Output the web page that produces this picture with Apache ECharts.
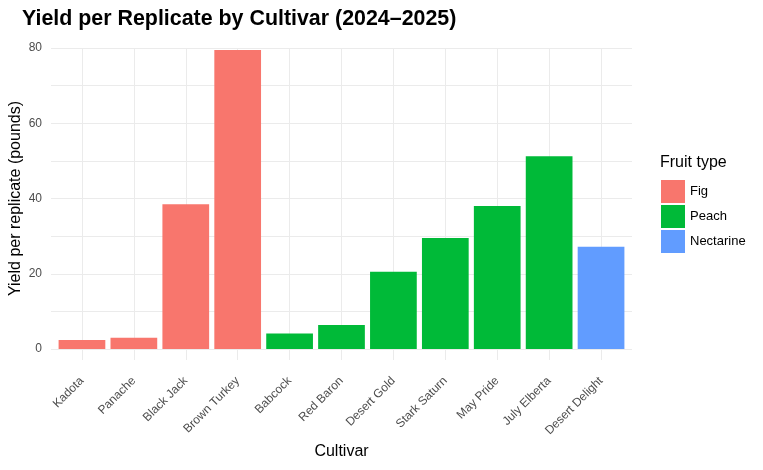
<!DOCTYPE html>
<html>
<head>
<meta charset="utf-8">
<script src="https://cdn.jsdelivr.net/npm/echarts@6/dist/echarts.min.js"></script>
<style>
  html, body { margin: 0; padding: 0; background: #fff; }
  #chart { width: 763px; height: 470px; }
</style>
</head>
<body>
<div id="chart"></div>
<script>
// data
const cultivars = ["Kadota", "Panache", "Black Jack", "Brown Turkey", "Babcock", "Red Baron",
  "Desert Gold", "Stark Saturn", "May Pride", "July Elberta", "Desert Delight"];
const fruitTypes = ["Fig", "Fig", "Fig", "Fig", "Peach", "Peach",
  "Peach", "Peach", "Peach", "Peach", "Nectarine"];
const yields = [2.4, 3.0, 38.5, 79.5, 4.1, 6.4, 20.5, 29.5, 38.0, 51.2, 27.2];
const fruitOrder = ["Fig", "Peach", "Nectarine"];
const fruitColors = ["#F8766D", "#00BA38", "#619CFF"];
const yTicks = [0, 20, 40, 60, 80];

const font = "Liberation Sans, Arial, sans-serif";
const gridColor = "#ebebeb";

const series = fruitOrder.map(function (f, i) {
  return {
    name: f,
    type: "bar",
    stack: "all",
    barCategoryGap: "10%",
    itemStyle: { color: fruitColors[i] },
    data: yields.map(function (v, j) { return fruitTypes[j] === f ? v : "-"; }),
  };
});

// extra axes only draw short ticks so the grid lines run a bit past the panel, like ggplot
const chart = echarts.init(document.getElementById("chart"));
chart.setOption({
  animation: false,
  textStyle: { fontFamily: font },
  title: [
    {
      text: "Yield per Replicate by Cultivar (2024\u20132025)",
      left: 17,
      top: 4,
      textStyle: { fontSize: 21.4, fontWeight: "bold", color: "#000", fontFamily: font },
    },
    {
      text: "Fruit type",
      left: 655,
      top: 150,
      textStyle: { fontSize: 16, fontWeight: "normal", color: "#000", fontFamily: font },
    },
  ],
  legend: {
    orient: "vertical",
    left: 656,
    top: 175,
    itemWidth: 24,
    itemHeight: 23,
    itemGap: 2,
    icon: "rect",
    data: fruitOrder,
    textStyle: { fontSize: 13, color: "#000", fontFamily: font },
  },
  grid: { left: 56, right: 136, top: 48, bottom: 121, outerBoundsMode: "none", containLabel: false },
  xAxis: [
    {
      type: "category",
      data: cultivars,
      name: "Cultivar",
      nameLocation: "middle",
      nameGap: 95,
      nameMoveOverlap: false,
      nameTextStyle: { fontSize: 16, color: "#000", fontFamily: font },
      axisLine: { show: false },
      axisTick: { show: true, alignWithLabel: true, length: 11, lineStyle: { color: gridColor } },
      axisLabel: { rotate: 45, fontSize: 12, color: "#4d4d4d", margin: 30, interval: 0 },
      splitLine: { show: true, alignWithLabel: true, lineStyle: { color: gridColor, width: 1 } },
    },
    {
      type: "category",
      position: "top",
      data: cultivars,
      axisLine: { show: false },
      axisTick: { show: true, alignWithLabel: true, length: 13, lineStyle: { color: gridColor } },
      axisLabel: { show: false },
      splitLine: { show: false },
    },
  ],
  yAxis: [
    {
      type: "value",
      min: 0,
      max: 80,
      interval: 10,
      name: "Yield per replicate (pounds)",
      nameLocation: "middle",
      nameGap: 32,
      nameMoveOverlap: false,
      nameTextStyle: { fontSize: 16, color: "#000", fontFamily: font },
      axisLine: { show: false },
      axisTick: { show: true, length: 5, lineStyle: { color: gridColor } },
      axisLabel: {
        fontSize: 12,
        color: "#4d4d4d",
        margin: 14,
        formatter: function (v) { return yTicks.indexOf(v) >= 0 ? String(v) : ""; },
      },
      splitLine: { show: true, lineStyle: { color: gridColor, width: 1 } },
    },
    {
      type: "value",
      position: "right",
      min: 0,
      max: 80,
      interval: 10,
      axisLine: { show: false },
      axisTick: { show: true, length: 5, lineStyle: { color: gridColor } },
      axisLabel: { show: false },
      splitLine: { show: false },
    },
  ],
  series: series,
});
</script>
</body>
</html>
